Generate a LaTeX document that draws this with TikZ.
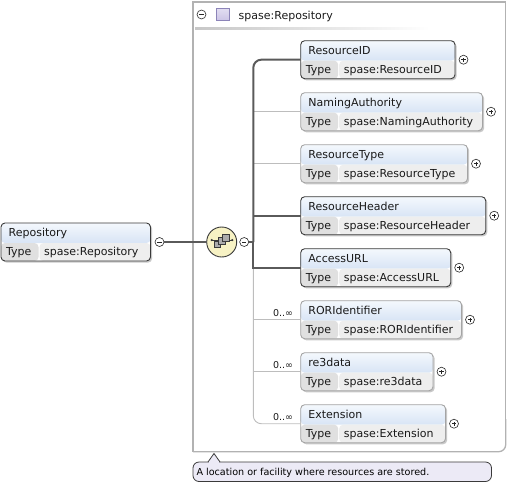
\documentclass[tikz,border=0pt]{standalone}
\usepackage{fontspec}
\setmainfont{DejaVu Sans}
\usepackage{tikz}
\pgfdeclarelayer{bg}
\pgfsetlayers{bg,main}

\definecolor{dkline}{HTML}{3A3A3A}
\definecolor{ltline}{HTML}{A4A4A4}
\definecolor{hdtop}{HTML}{F4F8FD}
\definecolor{hdbot}{HTML}{BFD3EE}
\definecolor{tycell}{HTML}{E0E0E0}
\definecolor{tyval}{HTML}{EEEEEE}
\definecolor{shadowc}{HTML}{C8C8C8}
\definecolor{busc}{HTML}{5A5A5A}
\definecolor{thinc}{HTML}{BDBDBD}
\definecolor{framec}{HTML}{B2B2B2}
\definecolor{seqc}{HTML}{F7F2C4}
\definecolor{tipc}{HTML}{ECEAF6}
\definecolor{lavc}{HTML}{CBC3E6}
\definecolor{lavd}{HTML}{8C84B8}

\newcommand{\elemfont}{\fontsize{11}{13}\selectfont}

\tikzset{
  elem/.style={rounded corners=4pt, anchor=north west, inner sep=0pt, outer sep=0pt,
    minimum height=38pt, line width=0.9pt, fill=white,
    path picture={
      \shade[top color=hdtop, bottom color=hdbot]
        (path picture bounding box.north west) rectangle ([yshift=-20pt]path picture bounding box.north east);
      \fill[tycell] ([yshift=-20pt]path picture bounding box.north west) rectangle ([xshift=37.5pt]path picture bounding box.south west);
      \fill[tyval] ([shift={(38.5pt,-20pt)}]path picture bounding box.north west) rectangle (path picture bounding box.south east);
    }},
  req/.style={elem, draw=dkline},
  opt/.style={elem, draw=ltline},
  lbl/.style={anchor=base west, inner sep=0pt, font=\elemfont, text=black!90},
  card/.style={anchor=base east, inner sep=0pt, font=\fontsize{9.5}{11}\selectfont, text=black!90},
  pm/.style={circle, draw=black!85, fill=white, minimum size=9pt, inner sep=0pt, outer sep=0pt, line width=0.6pt},
  plus/.style={pm, path picture={
      \draw[line width=0.7pt] ([xshift=-2.2pt]path picture bounding box.center) -- ([xshift=2.2pt]path picture bounding box.center)
        ([yshift=-2.2pt]path picture bounding box.center) -- ([yshift=2.2pt]path picture bounding box.center);}},
  minus/.style={pm, path picture={
      \draw[line width=0.7pt] ([xshift=-2.2pt]path picture bounding box.center) -- ([xshift=2.2pt]path picture bounding box.center);}},
  seq/.style={circle, draw=dkline, line width=0.9pt, fill=seqc, minimum size=30pt, inner sep=0pt, outer sep=0pt},
  lav/.style={rectangle, draw=lavd, line width=0.6pt, top color=lavc!55, bottom color=lavc, minimum size=12.5pt, inner sep=0pt},
  tipbox/.style={anchor=north west, draw=dkline, fill=tipc, rounded corners=6pt, line width=0.8pt,
    minimum width=298.5pt, minimum height=19.5pt, inner sep=0pt, outer sep=0pt},
  conn/.style={draw=busc, line width=1.5pt},
  bus/.style={draw=busc, line width=2pt},
  thinbus/.style={draw=thinc, line width=0.9pt},
}

% element box: name, x, y, width, style, title, type
\newcommand{\elembox}[7]{%
  \node[#5, minimum width=#4pt] (#1) at (#2,#3) {};
  \begin{pgfonlayer}{bg}
    \fill[shadowc, rounded corners=4pt] ([shift={(1.6pt,-1.6pt)}]#1.north west) rectangle ([shift={(1.6pt,-1.6pt)}]#1.south east);
  \end{pgfonlayer}
  \node[lbl] (#1-name) at ([shift={(7.5pt,-13.6pt)}]#1.north west) {#6};
  \node[lbl] (#1-key) at ([shift={(5pt,-32.6pt)}]#1.north west) {Type};
  \node[lbl] (#1-type) at ([shift={(43pt,-32.6pt)}]#1.north west) {#7};
}

\begin{document}
\begin{tikzpicture}[x=1pt, y=-1pt]
  \useasboundingbox (0,0) rectangle (509,485);

  % frame of the complex type
  \draw[framec, line width=1.3pt] (193,451.7) -- (193,2) -- (505.7,2) -- (505.7,420);
  \draw[framec, line width=1.3pt, rounded corners=7pt] (505.7,419) -- (505.7,451.7) -- (193,451.7);
  \shade[left color=black!22, right color=white] (195,27.5) rectangle (430,29.5);

  \node[minus] (hdm) at (201.5,14.5) {};
  \node[lav] (hdsq) at (222.8,14.5) {};
  \node[lbl] (hdname) at (238.5,19) {spase:Repository};

  % elements
  \elembox{root}{1}{223}{149.5}{req}{Repository}{spase:Repository}
  \elembox{rid}{300.7}{40.7}{154.3}{req}{ResourceID}{spase:ResourceID}
  \elembox{nam}{300.7}{92.7}{181.8}{opt}{NamingAuthority}{spase:NamingAuthority}
  \elembox{rtype}{300.7}{144.7}{166.8}{opt}{ResourceType}{spase:ResourceType}
  \elembox{rhead}{300.7}{196.7}{185}{req}{ResourceHeader}{spase:ResourceHeader}
  \elembox{aurl}{300.7}{248.7}{150}{req}{AccessURL}{spase:AccessURL}
  \elembox{ror}{300.7}{300.7}{160.8}{opt}{RORIdentifier}{spase:RORIdentifier}
  \elembox{re3}{300.7}{352.7}{132.3}{opt}{re3data}{spase:re3data}
  \elembox{ext}{300.7}{404.7}{144.8}{opt}{Extension}{spase:Extension}

  \foreach \e in {rid,nam,rtype,rhead,aurl,ror,re3,ext}
    \node[plus] (\e-plus) at ([xshift=8.5pt]\e.east) {};

  % sequence compositor
  \node[minus] (rootm) at ([xshift=9pt]root.east) {};
  \node[seq] (seq) at (221.7,242) {};
  \node[minus] (seqm) at ([xshift=7.5pt]seq.east) {};
  \coordinate (bus) at (253.3,242);

  \draw[dkline, line width=0.8pt] (211.7,240) -- (232.3,240);
  \fill[dkline] (211.7,240) circle (1.2pt) (232.3,240) circle (1.2pt);
  \filldraw[fill=gray!65, draw=dkline, line width=0.6pt] (214.3,241) rectangle (220.7,247.7);
  \filldraw[fill=gray!65, draw=dkline, line width=0.6pt] (218.3,237.7) rectangle (225,244.3);
  \filldraw[fill=gray!65, draw=dkline, line width=0.6pt] (222.3,234.3) rectangle (229,241);

  \draw[conn] (rootm) -- (seq);
  \draw[conn] (seqm) -- (bus);

  % connectors
  \draw[thinbus] (bus |- nam.west) -- (nam.west);
  \draw[thinbus] (bus |- rtype.west) -- (rtype.west);
  \draw[thinbus] (bus |- ror.west) -- (ror.west);
  \draw[thinbus] (bus |- re3.west) -- (re3.west);
  \draw[thinbus, rounded corners=8pt] (bus |- aurl.west) |- (ext.west);
  \draw[bus, rounded corners=8pt] (rid.west) -| (bus);
  \draw[bus] (bus) |- (aurl.west);
  \draw[bus] (bus |- rhead.west) -- (rhead.west);

  \node[card] (ror-card) at ([shift={(-7.5pt,3pt)}]ror.west) {0..∞};
  \node[card] (re3-card) at ([shift={(-7.5pt,3pt)}]re3.west) {0..∞};
  \node[card] (ext-card) at ([shift={(-7.5pt,3pt)}]ext.west) {0..∞};

  % annotation
  \node[tipbox] (tip) at (193,462) {};
  \filldraw[fill=tipc, draw=dkline, line width=0.8pt] ([xshift=15pt]tip.north west) -- ([shift={(21pt,8.5pt)}]tip.north west) -- ([xshift=27pt]tip.north west);
  \fill[tipc] ([shift={(15.8pt,-0.7pt)}]tip.north west) rectangle ([shift={(26.2pt,0.6pt)}]tip.north west);
  \node[anchor=base west, inner sep=0pt, font=\fontsize{9.6}{11}\selectfont] (tiptext) at (196.3,475.5) {A location or facility where resources are stored.};
\end{tikzpicture}
\end{document}
